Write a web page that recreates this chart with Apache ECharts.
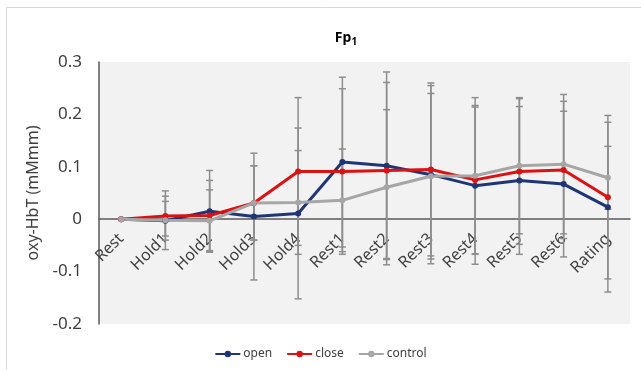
<!DOCTYPE html>
<html>
<head>
<meta charset="utf-8">
<script src="https://cdn.jsdelivr.net/npm/echarts@6/dist/echarts.min.js"></script>
<style>
  html, body { margin: 0; padding: 0; background: #ffffff; }
  #chart { width: 641px; height: 370px; }
</style>
</head>
<body>
<div id="chart"></div>
<script>
// Conditions along the x axis
const categories = ['Rest', 'Hold1', 'Hold2', 'Hold3', 'Hold4', 'Rest1', 'Rest2', 'Rest3', 'Rest4', 'Rest5', 'Rest6', 'Rating'];

// Mean oxy-HbT per condition
const openMean    = [0, -0.003, 0.015, 0.005, 0.011, 0.109, 0.102, 0.085, 0.064, 0.074, 0.067, 0.023];
const closeMean   = [0, 0.006, 0.007, 0.031, 0.091, 0.091, 0.093, 0.095, 0.075, 0.091, 0.094, 0.042];
const controlMean = [0, -0.002, -0.003, 0.031, 0.032, 0.036, 0.061, 0.082, 0.083, 0.102, 0.105, 0.079];

// Error bar half-lengths (SD)
const openErr    = [0, 0.037, 0.078, 0.121, 0.163, 0.162, 0.179, 0.170, 0.150, 0.141, 0.139, 0.162];
const closeErr   = [0, 0.038, 0.067, 0.071, 0.141, 0.158, 0.168, 0.165, 0.142, 0.139, 0.131, 0.156];
const controlErr = [0, 0.056, 0.059, 0.071, 0.099, 0.098, 0.148, 0.158, 0.149, 0.130, 0.133, 0.060];

// Y axis ticks
const yMin = -0.2, yMax = 0.3, yStep = 0.1;

const FONT = '"Noto Sans", "Open Sans", sans-serif';
const TEXT = '#404040';
const BAR = '#8e8e8e';

// Plot area box
const GRID = { left: 99, right: 11, top: 62, bottom: 46 };
const CHART_H = 370;
// Lift the category axis so it crosses the value axis at 0
const gridHeight = CHART_H - GRID.top - GRID.bottom;
const zeroOffset = -gridHeight * (0 - yMin) / (yMax - yMin);

function errorSeries(name, means, errs) {
  return {
    name: name,
    type: 'custom',
    z: 1,
    silent: true,
    data: means.map((m, i) => [i, m - errs[i], m + errs[i]]),
    renderItem: function (params, api) {
      const i = api.value(0);
      const lo = api.value(1), hi = api.value(2);
      if (hi - lo <= 0) return null;
      const pLo = api.coord([i, lo]);
      const pHi = api.coord([i, hi]);
      const cap = 3.5;
      const style = { stroke: BAR, lineWidth: 1.5 };
      return {
        type: 'group',
        children: [
          { type: 'line', shape: { x1: pLo[0], y1: pLo[1], x2: pHi[0], y2: pHi[1] }, style: style },
          { type: 'line', shape: { x1: pHi[0] - cap, y1: pHi[1], x2: pHi[0] + cap, y2: pHi[1] }, style: style },
          { type: 'line', shape: { x1: pLo[0] - cap, y1: pLo[1], x2: pLo[0] + cap, y2: pLo[1] }, style: style }
        ]
      };
    }
  };
}

function lineSeries(name, means, color) {
  return {
    name: name,
    type: 'line',
    z: 3,
    data: means,
    symbol: 'circle',
    symbolSize: 6,
    lineStyle: { color: color, width: 3 },
    itemStyle: { color: color },
    emphasis: { disabled: true }
  };
}

const chart = echarts.init(document.getElementById('chart'), null, { renderer: 'canvas' });

chart.setOption({
  animation: false,
  backgroundColor: '#ffffff',
  textStyle: { fontFamily: FONT },
  graphic: [
    { type: 'line', shape: { x1: 6.5, y1: 7.5, x2: 641, y2: 7.5 }, style: { stroke: '#d9d9d9', lineWidth: 1 } },
    { type: 'line', shape: { x1: 6.5, y1: 7.5, x2: 6.5, y2: 370 }, style: { stroke: '#d9d9d9', lineWidth: 1 } }
  ],
  title: {
    text: '{a|Fp}{b|1}',
    left: 341,
    top: 24,
    textAlign: 'center',
    textStyle: {
      rich: {
        a: { fontFamily: FONT, fontSize: 14, fontWeight: 'bold', color: '#000000' },
        b: { fontFamily: FONT, fontSize: 10, fontWeight: 'bold', color: '#000000', padding: [8, 0, 0, 0] }
      }
    }
  },
  legend: {
    data: ['open', 'close', 'control'],
    left: 'center',
    top: 343,
    itemWidth: 25,
    itemHeight: 8,
    itemGap: 14,
    textStyle: { fontFamily: FONT, fontSize: 12, color: TEXT, padding: [0, 0, 0, -2] }
  },
  grid: {
    left: GRID.left,
    right: GRID.right,
    top: GRID.top,
    bottom: GRID.bottom,
    outerBoundsMode: 'none',
    containLabel: false,
    show: true,
    backgroundColor: '#f2f2f2',
    borderWidth: 0
  },
  xAxis: {
    type: 'category',
    data: categories,
    boundaryGap: true,
    offset: zeroOffset,
    axisLine: { onZero: false, lineStyle: { color: '#595959', width: 1.5 } },
    axisTick: { show: false },
    axisLabel: { rotate: 45, margin: 17, fontSize: 16, color: TEXT, fontFamily: FONT, interval: 0 },
    splitLine: { show: false }
  },
  yAxis: {
    type: 'value',
    min: yMin,
    max: yMax,
    interval: yStep,
    name: 'oxy-HbT (mMmm)',
    nameLocation: 'middle',
    nameGap: 52,
    nameTextStyle: { fontFamily: FONT, fontSize: 16, color: TEXT },
    axisLine: { show: true, lineStyle: { color: '#595959', width: 1.5 } },
    axisTick: { show: false },
    splitLine: { show: false },
    axisLabel: {
      margin: 17,
      fontSize: 17,
      color: TEXT,
      fontFamily: FONT,
      formatter: function (v) { return String(Math.round(v * 10) / 10); }
    }
  },
  series: [
    errorSeries('open-err', openMean, openErr),
    errorSeries('close-err', closeMean, closeErr),
    errorSeries('control-err', controlMean, controlErr),
    lineSeries('open', openMean, '#1f3576'),
    lineSeries('close', closeMean, '#dd1111'),
    lineSeries('control', controlMean, '#a6a6a6')
  ]
});
</script>
</body>
</html>
